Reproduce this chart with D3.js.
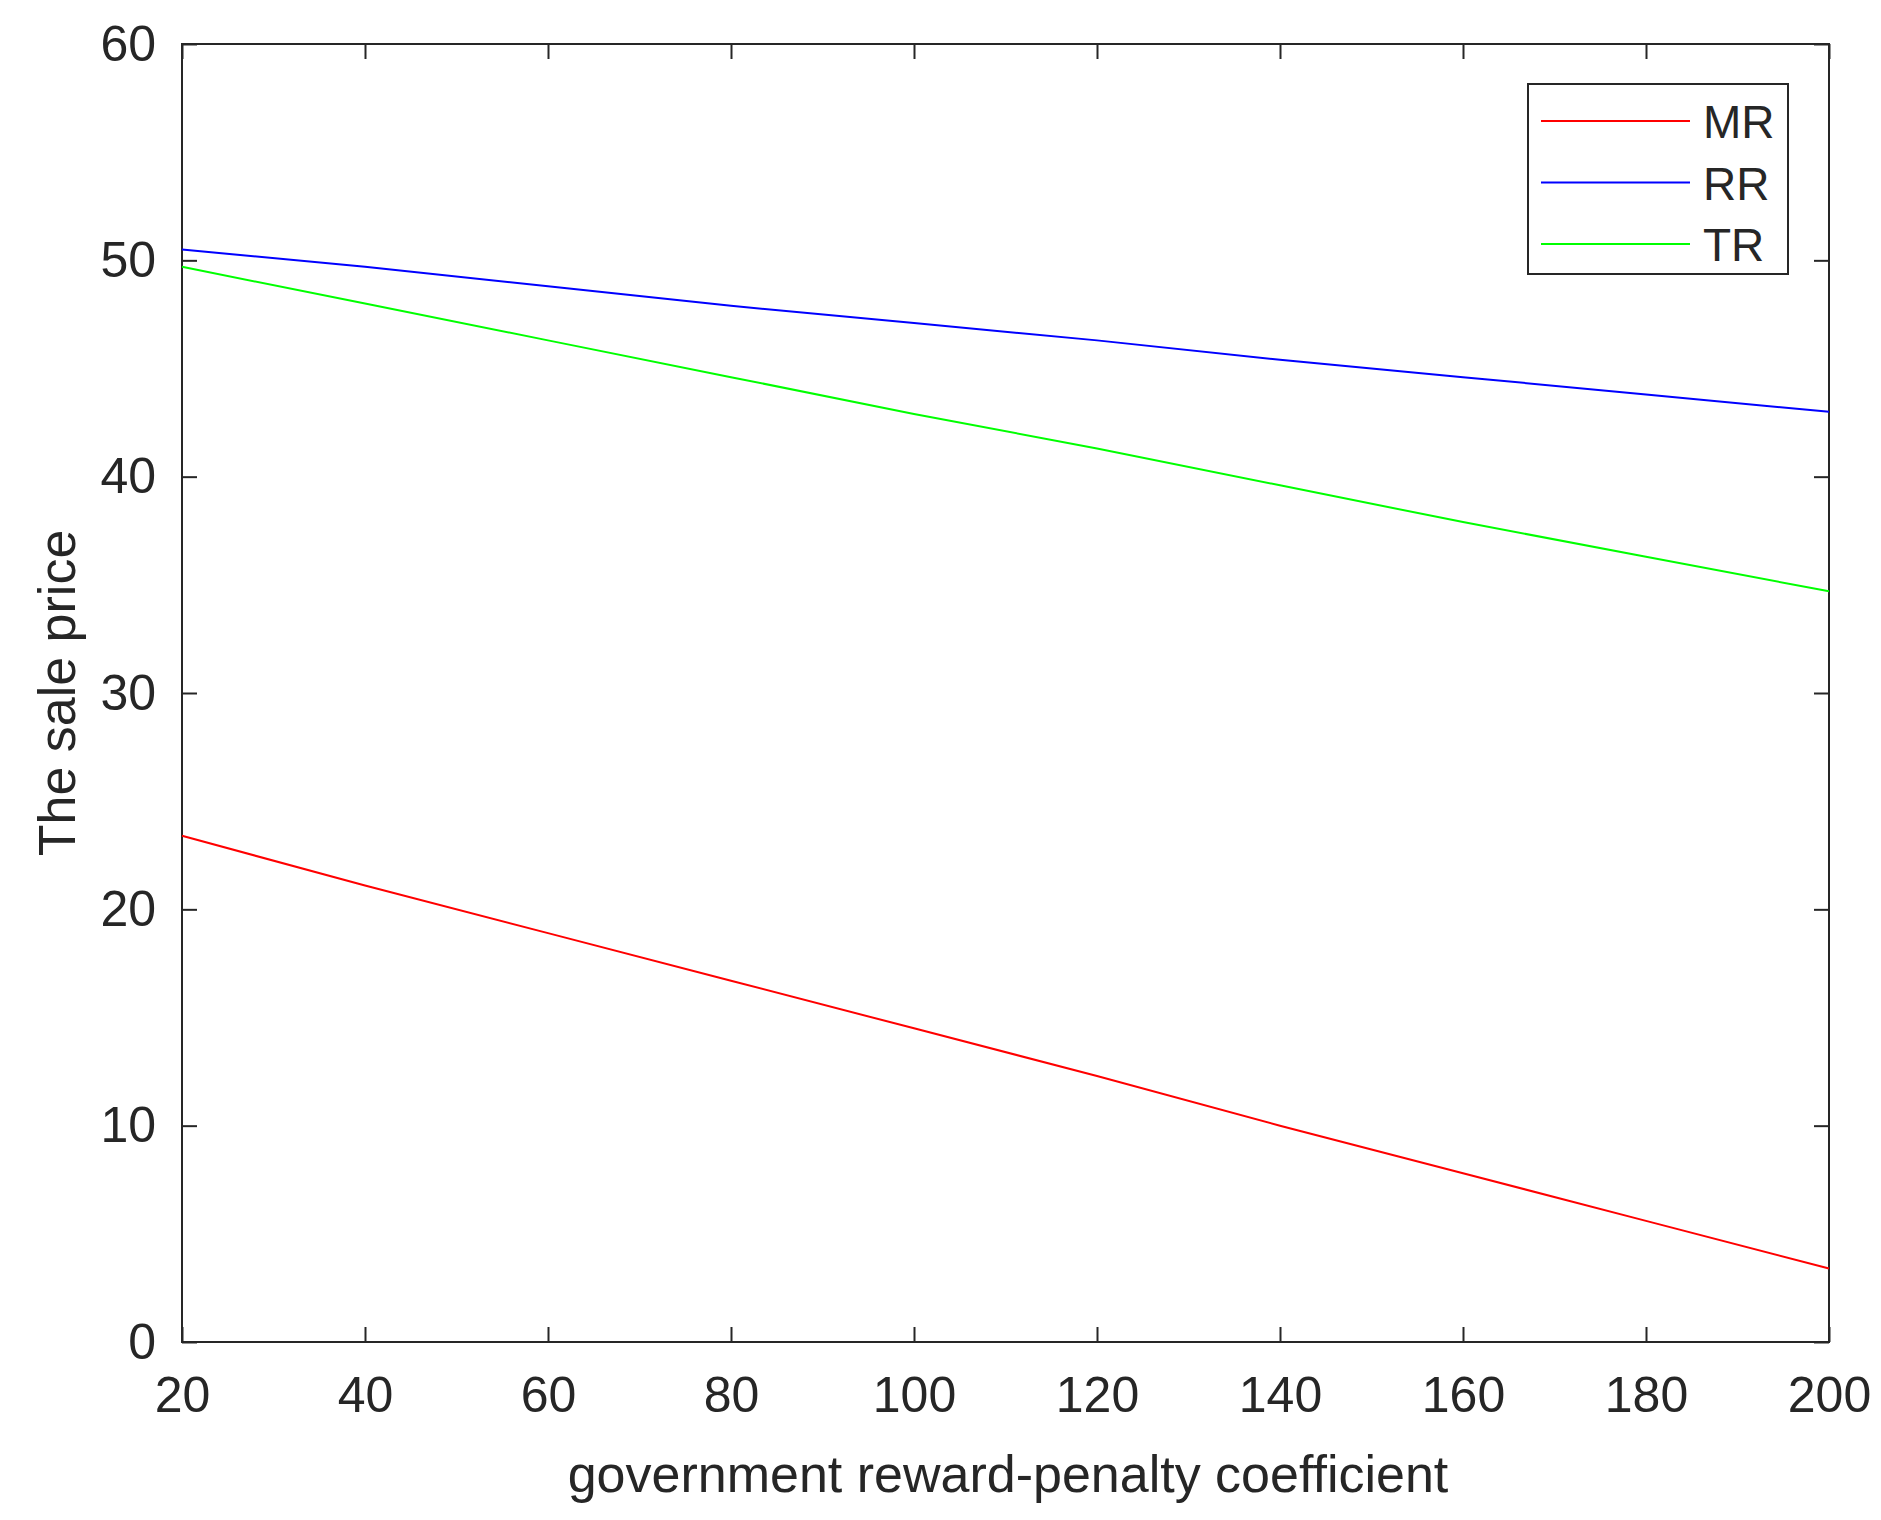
<!DOCTYPE html>
<html><head><meta charset="utf-8">
<script src="https://cdn.jsdelivr.net/npm/d3@7"></script>
<style>body{margin:0;background:#fff}text{font-family:"Liberation Sans",Arial,sans-serif;fill:#262626}</style>
</head><body><svg id="c" width="1881" height="1520"></svg>
<script>
const xValues=[20,40,60,80,100,120,140,160,180,200];
const MR=[23.4,21.1,18.9,16.7,14.5,12.3,10.0,7.8,5.6,3.4];
const RR=[50.5,49.7,48.8,47.9,47.1,46.3,45.4,44.6,43.8,43.0];
const TR=[49.7,48.0,46.3,44.6,42.9,41.3,39.6,37.9,36.3,34.7];
const xTicks=[20,40,60,80,100,120,140,160,180,200];
const yTicks=[0,10,20,30,40,50,60];
const series=[{name:"MR",v:MR,c:"#ff0000"},{name:"RR",v:RR,c:"#0000ff"},{name:"TR",v:TR,c:"#00ff00"}];
const L=182,R=1829,T=44,B=1342;
const svg=d3.select("#c");
const x=d3.scaleLinear().domain([20,200]).range([L,R]);
const y=d3.scaleLinear().domain([0,60]).range([B,T]);
const ax=(g,a)=>{g.call(a);g.select(".domain").remove();g.selectAll("line").attr("stroke","#262626").attr("stroke-width",2);g.selectAll("text").attr("font-size",50).style("fill","#262626");};
svg.append("g").attr("transform",`translate(0,${B})`).call(g=>ax(g,d3.axisBottom(x).tickValues(xTicks).tickSizeInner(-15).tickPadding(34)));
svg.append("g").attr("transform",`translate(0,${T})`).call(g=>{ax(g,d3.axisTop(x).tickValues(xTicks).tickSizeInner(-15));g.selectAll("text").remove();});
svg.append("g").attr("transform",`translate(${L},0)`).call(g=>ax(g,d3.axisLeft(y).tickValues(yTicks).tickSizeInner(-15).tickPadding(26)));
svg.append("g").attr("transform",`translate(${R},0)`).call(g=>{ax(g,d3.axisRight(y).tickValues(yTicks).tickSizeInner(-15));g.selectAll("text").remove();});
svg.append("rect").attr("x",L).attr("y",T).attr("width",R-L).attr("height",B-T).attr("fill","none").attr("stroke","#262626").attr("stroke-width",2);
const line=d3.line().x((d,i)=>x(xValues[i])).y(d=>y(d));
series.forEach(s=>svg.append("path").attr("d",line(s.v)).attr("fill","none").attr("stroke",s.c).attr("stroke-width",2));
svg.append("text").attr("x",1008).attr("y",1492).attr("text-anchor","middle").attr("font-size",52).text("government reward-penalty coefficient");
svg.append("text").attr("transform",`translate(75,${(T+B)/2}) rotate(-90)`).attr("text-anchor","middle").attr("font-size",52).text("The sale price");
const lg=svg.append("g");
lg.append("rect").attr("x",1528).attr("y",84).attr("width",260).attr("height",190).attr("fill","#fff").attr("stroke","#262626").attr("stroke-width",2);
series.forEach((s,i)=>{const yy=121+i*61.5;
lg.append("line").attr("x1",1541).attr("x2",1690).attr("y1",yy).attr("y2",yy).attr("stroke",s.c).attr("stroke-width",2);
lg.append("text").attr("x",1703).attr("y",yy+17).attr("font-size",46).text(s.name);});
</script></body></html>
